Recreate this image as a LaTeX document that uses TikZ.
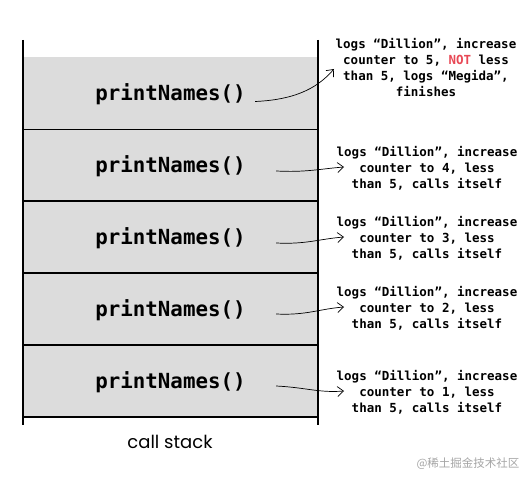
\documentclass[tikz,border=0pt]{standalone}
\usepackage{fontspec}
\setmonofont{DejaVu Sans Mono}
\newfontfamily\cjkfont{Noto Sans CJK SC}
\newfontfamily\handfont{Poppins}
\usepackage{tikz}
\usetikzlibrary{arrows.meta, positioning, calc}
\definecolor{stackgray}{RGB}{220,220,220}
\definecolor{notred}{RGB}{232,72,85}
\definecolor{markgray}{RGB}{165,165,165}

\begin{document}
\begin{tikzpicture}[
    x=1pt, y=-1pt,
    every node/.style={font=\ttfamily\bfseries},
    frame/.style={line width=1.6pt},
    slot/.style={fill=stackgray, minimum width=295pt, minimum height=72pt, inner sep=0pt},
    fname/.style={font=\ttfamily\bfseries\fontsize{20.8}{24}\selectfont},
    note/.style={align=center, inner sep=1pt, font=\ttfamily\bfseries\fontsize{12.5}{16}\selectfont},
    hand/.style={-{Straight Barb[length=6pt, width=10pt]}, line width=0.7pt},
]
    \useasboundingbox (0,0) rectangle (530,484);

    % Stack frames
    \foreach \i/\y in {1/93.5, 2/165, 3/237, 4/309, 5/381} {
        \node[slot] (slot\i) at (170.5,\y) {};
        \node[fname] (fn\i) at (170.5,\y+1) {printNames()};
    }
    \foreach \i in {1,...,5} {
        \draw[frame] (slot\i.south west) -- (slot\i.south east);
    }

    % Walls
    \draw[frame] (23,40) -- (23,425);
    \draw[frame] (318,40) -- (318,425);

    % Top frame: finishes
    \node[note] (note1) at (426,68) {logs “Dillion”, increase\\counter to 5, \textcolor{notred}{NOT} less\\than 5, logs “Megida”,\\finishes};
    \coordinate (tip1) at (334,69);
    \draw[hand] ([xshift=6pt, yshift=-7pt]fn1.east) .. controls +(45,-2) and +(-14,16) .. (tip1);

    % Lower frames: recursive calls
    \foreach \i/\y/\n in {2/168/4, 3/238/3, 4/308/2, 5/392/1} {
        \node[note] (note\i) at (427,\y) {logs “Dillion”, increase\\counter to \n, less\\than 5, calls itself};
        \coordinate (tip\i) at (344,\y-1);
    }
    \foreach \i/\d in {2/5, 3/5, 4/4, 5/4} {
        \draw[hand] ([xshift=27pt, yshift=-\d pt]fn\i.east) .. controls +(30,1.5) and +(-25,2) .. (tip\i);
    }

    % Caption
    \node[font=\handfont\fontsize{18}{22}\selectfont] (caption) at (170,442) {call stack};
    \node[font=\cjkfont\fontsize{11.5}{14}\selectfont, text=markgray] (mark) at (468,464) {@稀土掘金技术社区};
\end{tikzpicture}
\end{document}
